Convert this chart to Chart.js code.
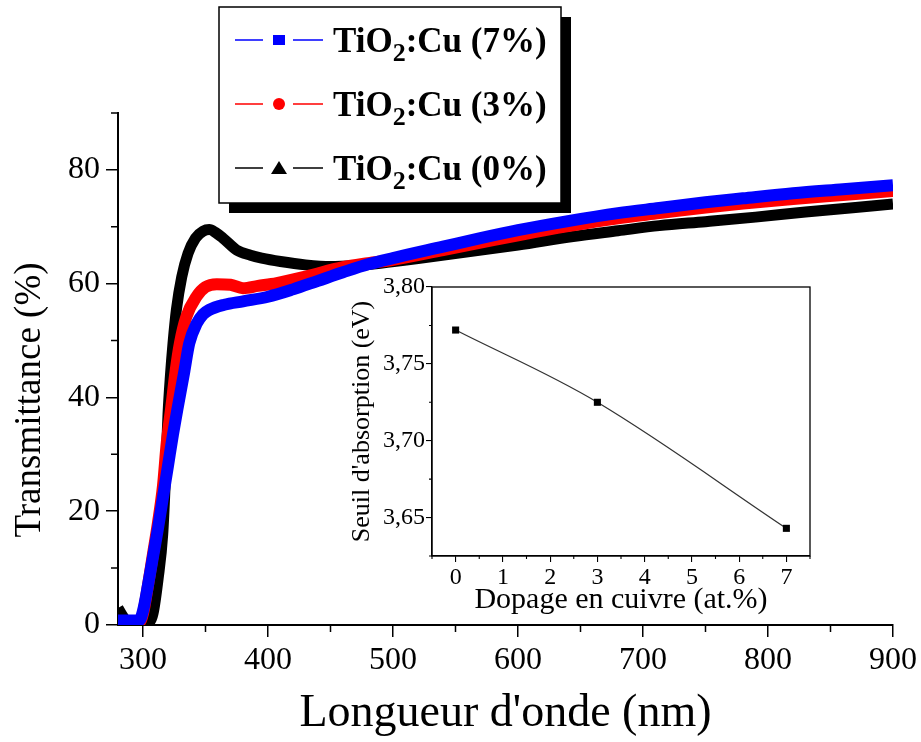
<!DOCTYPE html>
<html>
<head>
<meta charset="utf-8">
<script src="https://cdn.jsdelivr.net/npm/chart.js@4"></script>
<style>
  html, body { margin: 0; padding: 0; background: #fff; }
  #wrap { position: relative; width: 921px; height: 742px; }
  #main { position: absolute; left: 0; top: 0; }
  #inset { position: absolute; left: 330px; top: 270px; }
</style>
</head>
<body>
<div id="wrap">
  <canvas id="main" width="921" height="742"></canvas>
  <canvas id="inset" width="500" height="350"></canvas>
</div>
<script>
// TiO2:Cu (7%) transmittance
const wl7 = [280, 290, 297, 300, 304, 308, 312, 316, 320, 324, 328, 333, 337, 343, 348, 353, 365, 380, 400, 420, 440, 460, 480, 500, 540, 570, 600, 640, 680, 713, 750, 780, 820, 860, 900];
const t7  = [0.8, 0.8, 0.8, 2.5, 7, 12, 17, 22.5, 28, 33.5, 38.5, 44.5, 49.5, 53, 54.6, 55.4, 56.3, 56.9, 57.7, 59.0, 60.5, 62.0, 63.4, 64.5, 66.5, 68.0, 69.4, 71.0, 72.4, 73.3, 74.3, 75.0, 75.9, 76.6, 77.3];

// TiO2:Cu (3%)
const wl3 = [280, 297, 300, 304, 308, 312, 316, 319, 322.7, 326, 329.5, 334.7, 342.7, 350, 359, 370, 380, 392, 407, 431, 460, 480, 500, 540, 570, 600, 640, 680, 713, 750, 780, 820, 860, 900];
const t3  = [0.5, 0.5, 2, 7, 12.5, 18, 24.5, 32, 38.4, 44.5, 49.5, 54.2, 57.7, 59.4, 59.9, 59.8, 59.2, 59.6, 60.1, 61.3, 62.9, 63.6, 64.2, 65.9, 67.2, 68.5, 70.1, 71.5, 72.4, 73.4, 74.1, 74.9, 75.6, 76.3];

// TiO2:Cu (0%)
const wl0 = [280, 284, 288, 300, 305, 308, 312, 315.8, 318, 320, 322, 324, 326.7, 331, 336, 342, 348, 353, 358, 364, 375, 386, 395, 410, 430, 450, 470, 490, 520, 560, 600, 644, 680, 713, 750, 790, 830, 870, 900];
const t0  = [3, 1.5, 0.3, 0.2, 0.5, 2, 8, 16, 26, 37, 44, 49.5, 55.4, 61.2, 65.3, 68, 69.2, 69.5, 69.0, 68.0, 65.9, 65.0, 64.5, 63.9, 63.3, 63.0, 63.2, 63.6, 64.4, 65.6, 66.8, 68.3, 69.3, 70.2, 70.9, 71.7, 72.6, 73.4, 74.0];

const seriesNames = ['TiO₂:Cu (7%)', 'TiO₂:Cu (3%)', 'TiO₂:Cu (0%)'];
const seriesColors = ['#0000ff', '#ff0000', '#000000'];
const markerStyles = ['square', 'circle', 'triangle'];

const xMajor = [300, 400, 500, 600, 700, 800, 900];
const xMinor = [350, 450, 550, 650, 750, 850];
const yMajor = [0, 20, 40, 60, 80];
const yMinor = [10, 30, 50, 70, 90];
const yTitle = 'Transmittance (%)';

// inset: absorption edge vs copper doping
const dopage = [0, 3, 7];
const seuil = [3.772, 3.725, 3.643];
const insetXMajor = [0, 1, 2, 3, 4, 5, 6, 7];
const insetXMinor = [-0.5, 0.5, 1.5, 2.5, 3.5, 4.5, 5.5, 6.5, 7.5];
const insetYMajor = [3.65, 3.70, 3.75, 3.80];
const insetYMinor = [3.625, 3.675, 3.725, 3.775];

const SERIF = "'Liberation Serif', 'Times New Roman', serif";

function toPoints(xs, ys) {
  return xs.map((x, i) => ({ x, y: ys[i] }));
}

// short ticks between the labelled ones
const minorTicks = {
  id: 'minorTicks',
  afterDraw(chart, args, o) {
    const ctx = chart.ctx;
    const a = chart.chartArea;
    const xs = chart.scales.x, ys = chart.scales.y;
    ctx.save();
    ctx.strokeStyle = '#000';
    ctx.lineWidth = o.width;
    ctx.beginPath();
    o.x.forEach(v => {
      const p = xs.getPixelForValue(v);
      ctx.moveTo(p, a.bottom);
      ctx.lineTo(p, a.bottom + o.len);
    });
    o.y.forEach(v => {
      const p = ys.getPixelForValue(v);
      ctx.moveTo(a.left, p);
      ctx.lineTo(a.left - o.len, p);
    });
    ctx.stroke();
    ctx.restore();
  }
};

// y title sits lower than the axis middle in the original
const sideTitle = {
  id: 'sideTitle',
  afterDraw(chart, args, o) {
    const ctx = chart.ctx;
    ctx.save();
    ctx.translate(o.x, o.y);
    ctx.rotate(-Math.PI / 2);
    ctx.font = o.size + 'px ' + SERIF;
    ctx.fillStyle = '#000';
    ctx.textAlign = 'center';
    ctx.textBaseline = 'middle';
    ctx.fillText(yTitle, 0, 0);
    ctx.restore();
  }
};

// legend box with drop shadow and subscript text
const boxLegend = {
  id: 'boxLegend',
  afterDraw(chart, args, o) {
    const ctx = chart.ctx;
    ctx.save();
    ctx.fillStyle = '#000';
    ctx.fillRect(o.x + o.shadow, o.y + o.shadow, o.w, o.h);
    ctx.fillStyle = '#fff';
    ctx.fillRect(o.x, o.y, o.w, o.h);
    ctx.strokeStyle = '#000';
    ctx.lineWidth = 1.5;
    ctx.strokeRect(o.x, o.y, o.w, o.h);

    seriesNames.forEach((name, i) => {
      const cy = o.y + o.rowTop + i * o.rowGap;
      const col = seriesColors[i];
      ctx.strokeStyle = col;
      ctx.fillStyle = col;
      ctx.lineWidth = 1.5;
      ctx.beginPath();
      ctx.moveTo(o.x + 16, cy); ctx.lineTo(o.x + 44, cy);
      ctx.moveTo(o.x + 74, cy); ctx.lineTo(o.x + 104, cy);
      ctx.stroke();

      const mx = o.x + 60;
      ctx.beginPath();
      if (markerStyles[i] === 'square') {
        ctx.rect(mx - 6, cy - 5, 12, 10);
      } else if (markerStyles[i] === 'circle') {
        ctx.arc(mx, cy, 6, 0, Math.PI * 2);
      } else {
        ctx.moveTo(mx - 8, cy + 6);
        ctx.lineTo(mx + 8, cy + 6);
        ctx.lineTo(mx, cy - 7);
        ctx.closePath();
      }
      ctx.fill();

      // split around the subscript two
      const parts = name.split('₂');
      let tx = o.x + 114;
      const base = cy + 12;
      ctx.fillStyle = '#000';
      ctx.textBaseline = 'alphabetic';
      ctx.textAlign = 'left';
      ctx.font = 'bold ' + o.font + 'px ' + SERIF;
      ctx.fillText(parts[0], tx, base);
      tx += ctx.measureText(parts[0]).width;
      ctx.font = 'bold ' + Math.round(o.font * 0.75) + 'px ' + SERIF;
      ctx.fillText('2', tx, base + 9);
      tx += ctx.measureText('2').width;
      ctx.font = 'bold ' + o.font + 'px ' + SERIF;
      ctx.fillText(parts[1], tx, base);
    });
    ctx.restore();
  }
};

const frame = {
  id: 'frame',
  afterDraw(chart) {
    const a = chart.chartArea;
    const ctx = chart.ctx;
    ctx.save();
    ctx.strokeStyle = '#000';
    ctx.lineWidth = 1.3;
    ctx.strokeRect(a.left, a.top, a.right - a.left, a.bottom - a.top);
    ctx.restore();
  }
};

function curve(i, xs, ys, width) {
  return {
    label: seriesNames[i],
    data: toPoints(xs, ys),
    borderColor: seriesColors[i],
    backgroundColor: seriesColors[i],
    borderWidth: width,
    pointRadius: 0,
    cubicInterpolationMode: 'monotone',
    borderJoinStyle: 'round',
    clip: 0
  };
}

new Chart(document.getElementById('main'), {
  type: 'line',
  data: {
    datasets: [
      curve(0, wl7, t7, 12),
      curve(1, wl3, t3, 12),
      curve(2, wl0, t0, 11)
    ]
  },
  options: {
    responsive: false,
    animation: false,
    devicePixelRatio: 1,
    layout: { padding: { top: 113, right: 28, left: 0, bottom: 0 } },
    plugins: {
      legend: { display: false },
      tooltip: { enabled: false },
      minorTicks: { x: xMinor, y: yMinor, len: 7, width: 1.5 },
      sideTitle: { x: 30, y: 400, size: 37 },
      boxLegend: { x: 219, y: 7, w: 342, h: 196, shadow: 10, rowTop: 33, rowGap: 64, font: 35 }
    },
    scales: {
      x: {
        type: 'linear',
        min: 280,
        max: 900,
        afterBuildTicks: s => { s.ticks = xMajor.map(v => ({ value: v })); },
        afterFit: s => { s.height = 117; },
        grid: { drawOnChartArea: false, tickLength: 12, color: '#000', lineWidth: 1.5 },
        border: { color: '#000', width: 2 },
        ticks: { font: { family: SERIF, size: 32 }, color: '#000', padding: 4, maxRotation: 0, callback: v => String(v) },
        title: { display: true, text: "Longueur d'onde (nm)", font: { family: SERIF, size: 46 }, color: '#000', padding: { top: 0, bottom: 0 } }
      },
      y: {
        min: 0,
        max: 90,
        afterBuildTicks: s => { s.ticks = yMajor.map(v => ({ value: v })); },
        afterFit: s => { s.width = 118; },
        grid: { drawOnChartArea: false, tickLength: 12, color: '#000', lineWidth: 1.5 },
        border: { color: '#000', width: 2 },
        ticks: { font: { family: SERIF, size: 32 }, color: '#000', padding: 6, callback: v => String(v) },
        title: { display: false }
      }
    }
  },
  plugins: [minorTicks, sideTitle, boxLegend]
});

new Chart(document.getElementById('inset'), {
  type: 'line',
  data: {
    datasets: [{
      data: toPoints(dopage, seuil),
      borderColor: '#333',
      borderWidth: 1.3,
      tension: 0.35,
      pointStyle: 'rect',
      pointRadius: 5,
      pointBackgroundColor: '#000',
      pointBorderColor: '#000',
      pointBorderWidth: 0
    }]
  },
  options: {
    responsive: false,
    animation: false,
    devicePixelRatio: 1,
    layout: { padding: { top: 17, right: 20, left: 0, bottom: 0 } },
    plugins: {
      legend: { display: false },
      tooltip: { enabled: false },
      minorTicks: { x: insetXMinor, y: insetYMinor, len: 3, width: 1.1 }
    },
    scales: {
      x: {
        type: 'linear',
        min: -0.5,
        max: 7.5,
        afterBuildTicks: s => { s.ticks = insetXMajor.map(v => ({ value: v })); },
        afterFit: s => { s.height = 64; },
        grid: { drawOnChartArea: false, tickLength: 6, color: '#000', lineWidth: 1.1 },
        border: { color: '#000', width: 1.3 },
        ticks: { font: { family: SERIF, size: 24 }, color: '#000', padding: 1, maxRotation: 0, callback: v => String(v) },
        title: { display: true, text: 'Dopage en cuivre (at.%)', font: { family: SERIF, size: 30 }, color: '#000', padding: { top: 0, bottom: 2 } }
      },
      y: {
        min: 3.625,
        max: 3.80,
        afterBuildTicks: s => { s.ticks = insetYMajor.map(v => ({ value: v })); },
        afterFit: s => { s.width = 102; },
        grid: { drawOnChartArea: false, tickLength: 6, color: '#000', lineWidth: 1.1 },
        border: { color: '#000', width: 1.3 },
        ticks: { font: { family: SERIF, size: 24 }, color: '#000', padding: 1, callback: v => v.toFixed(2).replace('.', ',') },
        title: { display: true, text: "Seuil d'absorption (eV)", font: { family: SERIF, size: 26 }, color: '#000', padding: { top: 17, bottom: 0 } }
      }
    }
  },
  plugins: [minorTicks, frame]
});
</script>
</body>
</html>
